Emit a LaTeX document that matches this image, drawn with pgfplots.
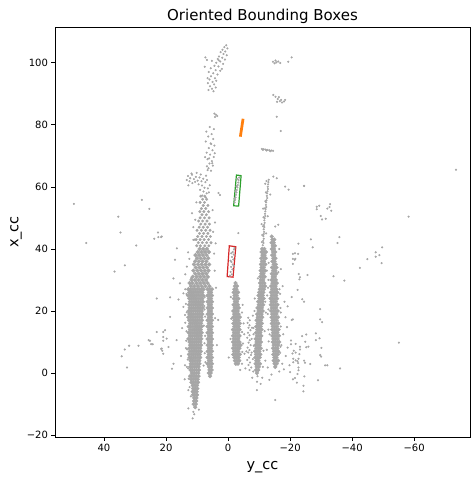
\documentclass[border=0pt]{standalone}
\usepackage{pgfplots}
\pgfplotsset{compat=1.18}
\usepackage{fontspec}
\setmainfont{DejaVu Sans}
\definecolor{ptgray}{RGB}{166,166,166}
\definecolor{mplorange}{HTML}{FF7F0E}
\definecolor{mplgreen}{HTML}{2CA02C}
\definecolor{mplred}{HTML}{D62728}
\pgfplotsset{
  scatpts/.style={only marks, color=ptgray, mark=*, mark size=0.85pt, mark options={draw=none, fill=ptgray}},
  medpts/.style={only marks, color=ptgray, mark=*, mark size=1.3pt, mark options={draw=none, fill=ptgray}},
  densepts/.style={only marks, color=ptgray, mark=*, mark size=1.9pt, mark options={draw=none, fill=ptgray}},
}
\begin{document}
\begin{tikzpicture}
\useasboundingbox (-55pt,-43pt) rectangle (417pt,437pt);
\begin{axis}[
  at={(0,0)}, anchor=south west,
  width=415pt, height=410pt, scale only axis,
  xmin=-78, xmax=55.8, ymin=-20.6, ymax=111.5,
  x dir=reverse,
  xtick={-60,-40,-20,0,20,40}, xticklabels={−60,−40,−20,0,20,40},
  ytick={-20,0,20,40,60,80,100}, yticklabels={−20,0,20,40,60,80,100},
  tick align=outside, xtick pos=left, ytick pos=left,
  major tick length=3.5pt,
  tick style={black, line width=0.6pt},
  axis line style={line width=0.6pt},
  ticklabel style={font=\fontsize{10}{12}\selectfont},
  title={Oriented Bounding Boxes},
  title style={font=\fontsize{15}{18}\selectfont, at={(axis description cs:0.5,1.013)}, anchor=base, yshift=-5pt},
  xlabel={y\_cc}, ylabel={x\_cc},
  xlabel style={font=\fontsize{14.5}{17}\selectfont, at={(axis description cs:0.5,-0.08)}, anchor=base},
  ylabel style={font=\fontsize{14.5}{17}\selectfont, at={(axis description cs:-0.088,0.5)}, anchor=base},
]
% dense strips
\addplot[densepts] coordinates {
(7.9,27)(8.6,27)(9.3,27)(10.0,27)(10.7,27)(11.4,27)(12.1,27)(12.8,27)
(8.3,26)(9.0,26)(9.7,26)(10.4,26)(11.1,26)(11.8,26)(12.5,26)
(8.0,25)(8.7,25)(9.4,25)(10.1,25)(10.8,25)(11.5,25)(12.2,25)(12.9,25)
(8.3,24)(9.0,24)(9.7,24)(10.4,24)(11.1,24)(11.8,24)(12.5,24)
(8.1,23)(8.8,23)(9.5,23)(10.2,23)(10.9,23)(11.6,23)(12.3,23)
(8.4,22)(9.1,22)(9.8,22)(10.5,22)(11.2,22)(11.9,22)(12.6,22)
(8.2,21)(8.9,21)(9.6,21)(10.3,21)(11.0,21)(11.7,21)(12.4,21)
(8.5,20)(9.2,20)(9.9,20)(10.6,20)(11.3,20)(12.0,20)(12.7,20)
(8.3,19)(9.0,19)(9.7,19)(10.4,19)(11.1,19)(11.8,19)(12.5,19)
(8.6,18)(9.3,18)(10.0,18)(10.7,18)(11.4,18)(12.1,18)(12.8,18)
(8.4,17)(9.1,17)(9.8,17)(10.5,17)(11.2,17)(11.9,17)(12.6,17)
(8.7,16)(9.4,16)(10.1,16)(10.8,16)(11.5,16)(12.2,16)
(8.5,15)(9.2,15)(9.9,15)(10.6,15)(11.3,15)(12.0,15)(12.7,15)
(8.8,14)(9.5,14)(10.2,14)(10.9,14)(11.6,14)(12.3,14)
(8.5,13)(9.2,13)(9.9,13)(10.6,13)(11.3,13)(12.0,13)(12.7,13)
(8.8,12)(9.5,12)(10.2,12)(10.9,12)(11.6,12)(12.3,12)
(8.6,11)(9.3,11)(10.0,11)(10.7,11)(11.4,11)(12.1,11)(12.8,11)
(8.9,10)(9.6,10)(10.3,10)(11.0,10)(11.7,10)(12.4,10)
(8.7,9)(9.4,9)(10.1,9)(10.8,9)(11.5,9)(12.2,9)
(9.0,8)(9.7,8)(10.4,8)(11.1,8)(11.8,8)(12.5,8)
(8.8,7)(9.5,7)(10.2,7)(10.9,7)(11.6,7)(12.3,7)
(9.1,6)(9.8,6)(10.5,6)(11.2,6)(11.9,6)(12.6,6)
(9.0,5)(9.7,5)(10.4,5)(11.1,5)(11.8,5)(12.4,5)
(9.3,4)(10.0,4)(10.7,4)(11.4,4)(12.1,4)
(9.2,3)(9.9,3)(10.6,3)(11.3,3)(12.0,3)
(9.5,2)(10.2,2)(10.9,2)(11.6,2)(12.2,2)
(9.4,1)(10.1,1)(10.8,1)(11.5,1)(12.1,1)
(9.6,0)(10.3,0)(11.0,0)(11.7,0)
(9.5,-1)(10.2,-1)(10.9,-1)(11.6,-1)(12.2,-1)
(9.8,-2)(10.5,-2)(11.2,-2)(11.9,-2)
(9.7,-3)(10.4,-3)(11.1,-3)(11.8,-3)
(10.0,-4)(10.7,-4)(11.4,-4)
(9.9,-5)(10.6,-5)(11.3,-5)
(10.1,-6)(10.8,-6)(11.4,-6)
(10.0,-7)(10.7,-7)(11.3,-7)
(10.2,-8)(10.9,-8)
(10.3,-9)(11.0,-9)
(10.4,-10)(11.1,-10)
(10.6,-11)
% secondary strip
(5.2,27)(5.9,27)(6.6,27)(5.5,26)(6.2,26)(5.2,25)(5.9,25)(6.6,25)(5.5,24)(6.2,24)
(5.2,23)(5.9,23)(6.6,23)(5.5,22)(6.2,22)(5.2,21)(5.9,21)(6.6,21)(5.5,20)(6.2,20)
(5.2,19)(5.9,19)(6.6,19)(5.5,18)(6.2,18)(5.2,17)(5.9,17)(6.6,17)(5.5,16)(6.2,16)
(5.2,15)(5.9,15)(6.6,15)(5.5,14)(6.2,14)(5.2,13)(5.9,13)(6.6,13)(5.5,12)(6.2,12)
(5.2,11)(5.9,11)(6.6,11)(5.5,10)(6.2,10)(5.2,9)(5.9,9)(6.6,9)(5.5,8)(6.2,8)
(5.2,7)(5.9,7)(6.6,7)(5.5,6)(6.2,6)(5.2,5)(5.9,5)(6.6,5)(5.5,4)(6.2,4)
(5.2,3)(5.9,3)(6.6,3)(5.5,2)(6.2,2)(5.3,1)(6.0,1)(5.6,0)(6.2,0)(5.8,-1)
% upper main
(6.8,40)(8.0,40)(9.2,40)(6.2,39)(7.4,39)(8.6,39)(9.8,39)
(6.9,38)(8.1,38)(9.3,38)(10.5,38)(6.4,37)(7.6,37)(8.8,37)(10.0,37)
(7.0,36)(8.2,36)(9.4,36)(10.6,36)(6.1,35)(7.3,35)(8.5,35)(9.7,35)(11.0,35)
(6.8,34)(8.0,34)(9.2,34)(10.4,34)(6.3,33)(7.5,33)(8.7,33)(9.9,33)(11.2,33)
(7.0,32)(8.2,32)(9.4,32)(10.6,32)(6.5,31)(7.7,31)(8.9,31)(10.1,31)(11.4,31)
(7.1,30)(8.3,30)(9.5,30)(10.7,30)(11.8,30)(6.6,29)(7.8,29)(9.0,29)(10.2,29)(11.5,29)(12.4,29)
(7.3,28)(8.5,28)(9.7,28)(10.9,28)(12.0,28)(6.0,28)
% strip D lower part
(-11.0,40)(-11.7,40)(-10.8,39)(-11.5,39)(-12.2,39)(-11.1,38)(-11.8,38)(-10.7,37)(-11.4,37)(-12.1,37)
(-10.9,36)(-11.6,36)(-10.6,35)(-11.3,35)(-12.0,35)(-10.8,34)(-11.5,34)(-10.5,33)(-11.2,33)(-11.9,33)
(-10.7,32)(-11.4,32)(-10.4,31)(-11.1,31)(-11.8,31)(-10.6,30)(-11.3,30)(-10.3,29)(-11.0,29)(-11.7,29)
(-10.5,28)(-11.2,28)(-11.9,28)(-10.2,27)(-10.9,27)(-11.6,27)(-10.0,26)(-10.7,26)(-11.4,26)
(-9.8,25)(-10.5,25)(-11.2,25)(-10.1,24)(-10.8,24)(-11.5,24)(-9.7,23)(-10.4,23)(-11.1,23)
(-9.9,22)(-10.6,22)(-11.3,22)(-9.5,21)(-10.2,21)(-10.9,21)(-9.8,20)(-10.5,20)(-11.2,20)
(-9.4,19)(-10.1,19)(-10.8,19)(-9.6,18)(-10.3,18)(-11.0,18)(-9.2,17)(-9.9,17)(-10.6,17)
(-9.5,16)(-10.2,16)(-10.9,16)(-9.1,15)(-9.8,15)(-10.5,15)(-9.4,14)(-10.1,14)(-10.8,14)
(-9.0,13)(-9.7,13)(-10.4,13)(-9.3,12)(-10.0,12)(-10.7,12)(-8.9,11)(-9.6,11)(-10.3,11)
(-9.2,10)(-9.9,10)(-10.6,10)(-8.8,9)(-9.5,9)(-10.2,9)(-9.1,8)(-9.8,8)(-10.5,8)
(-8.7,7)(-9.4,7)(-10.1,7)(-9.0,6)(-9.7,6)(-10.4,6)(-8.8,5)(-9.5,5)(-10.2,5)
(-9.1,4)(-9.8,4)(-8.9,3)(-9.6,3)(-10.3,3)(-9.2,2)(-9.9,2)(-9.0,1)(-9.7,1)(-9.3,0)
% strip E
(-14.1,44)(-14.3,43)(-14.9,43)(-14.0,42)(-14.7,42)(-14.4,41)(-15.1,41)(-14.1,40)(-14.8,40)
(-14.5,39)(-15.2,39)(-14.2,38)(-14.9,38)(-14.6,37)(-15.3,37)(-14.3,36)(-15.0,36)
(-14.7,35)(-15.4,35)(-14.2,34)(-14.9,34)(-15.6,34)(-14.5,33)(-15.2,33)
(-14.1,32)(-14.8,32)(-15.5,32)(-14.4,31)(-15.1,31)(-14.0,30)(-14.7,30)(-15.4,30)
(-14.3,29)(-15.0,29)(-15.7,29)(-13.9,28)(-14.6,28)(-15.3,28)(-14.2,27)(-14.9,27)(-15.6,27)
(-13.8,26)(-14.5,26)(-15.2,26)(-15.9,26)(-14.1,25)(-14.8,25)(-15.5,25)
(-13.7,24)(-14.4,24)(-15.1,24)(-15.8,24)(-14.0,23)(-14.7,23)(-15.4,23)
(-13.8,22)(-14.5,22)(-15.2,22)(-15.9,22)(-14.1,21)(-14.8,21)(-15.5,21)
(-13.9,20)(-14.6,20)(-15.3,20)(-16.0,20)(-14.2,19)(-14.9,19)(-15.6,19)
(-14.0,18)(-14.7,18)(-15.4,18)(-16.1,18)(-14.3,17)(-15.0,17)(-15.7,17)
(-14.1,16)(-14.8,16)(-15.5,16)(-16.2,16)(-14.4,15)(-15.1,15)(-15.8,15)
(-14.2,14)(-14.9,14)(-15.6,14)(-16.3,14)(-14.5,13)(-15.2,13)(-15.9,13)
(-14.3,12)(-15.0,12)(-15.7,12)(-16.4,12)(-14.6,11)(-15.3,11)(-16.0,11)
(-14.4,10)(-15.1,10)(-15.8,10)(-16.5,10)(-14.7,9)(-15.4,9)(-16.1,9)
(-14.5,8)(-15.2,8)(-15.9,8)(-14.8,7)(-15.5,7)(-16.2,7)(-14.6,6)(-15.3,6)(-16.0,6)
(-14.9,5)(-15.6,5)(-14.7,4)(-15.4,4)(-16.1,4)(-15.0,3)(-15.7,3)(-15.2,2)
% strip F
(-2.4,29)(-2.2,28)(-2.9,28)(-2.0,27)(-2.7,27)(-1.8,26)(-2.5,26)(-3.2,26)(-2.1,25)(-2.8,25)
(-1.9,24)(-2.6,24)(-3.3,24)(-2.2,23)(-2.9,23)(-1.8,22)(-2.5,22)(-3.2,22)
(-2.1,21)(-2.8,21)(-3.5,21)(-1.7,20)(-2.4,20)(-3.1,20)(-2.0,19)(-2.7,19)(-3.4,19)
(-1.7,18)(-2.4,18)(-3.1,18)(-3.8,18)(-2.0,17)(-2.7,17)(-3.4,17)
(-1.7,16)(-2.4,16)(-3.1,16)(-3.8,16)(-2.0,15)(-2.7,15)(-3.4,15)
(-1.6,14)(-2.3,14)(-3.0,14)(-3.7,14)(-1.9,13)(-2.6,13)(-3.3,13)
(-1.6,12)(-2.3,12)(-3.0,12)(-3.7,12)(-1.9,11)(-2.6,11)(-3.3,11)
(-1.6,10)(-2.3,10)(-3.0,10)(-3.7,10)(-1.9,9)(-2.6,9)(-3.3,9)(-4.0,9)
(-1.6,8)(-2.3,8)(-3.0,8)(-3.7,8)(-1.9,7)(-2.6,7)(-3.3,7)
(-1.7,6)(-2.4,6)(-3.1,6)(-3.8,6)(-2.0,5)(-2.7,5)(-3.4,5)(-2.2,4)(-2.9,4)(-3.6,4)(-2.5,3)(-3.2,3)
};
% medium-density part of the main strip
\addplot[medpts] coordinates {
(7.5,57)(8.8,57)(6.9,56)(8.2,56)(7.6,55)(9.0,55)(6.5,54)(8.0,54)(7.2,53)(8.6,53)
(6.3,52)(7.8,52)(9.1,52)(7.0,51)(8.4,51)(6.1,50)(7.6,50)(9.0,50)(6.8,49)(8.2,49)(9.5,49)
(6.0,48)(7.4,48)(8.8,48)(6.6,47)(8.0,47)(9.3,47)(5.8,46)(7.2,46)(8.6,46)(10.0,46)
(6.5,45)(7.9,45)(9.2,45)(5.7,44)(7.0,44)(8.4,44)(9.8,44)(6.3,43)(7.7,43)(9.0,43)(10.3,43)
(5.5,42)(6.9,42)(8.3,42)(9.6,42)(6.2,41)(7.5,41)(8.9,41)(10.1,41)
};
% scattered points
\addplot[scatpts] coordinates {
(-13.1,62.3)(-13.0,61.5)(-12.9,60.8)(-12.8,60.0)(-12.9,59.3)(-12.7,58.6)(-12.6,57.9)(-12.5,57.1)
(-12.6,56.4)(-12.4,55.7)(-12.3,55.0)(-12.2,54.2)(-12.3,53.5)(-12.1,52.8)(-12.0,52.1)(-11.9,51.3)
(-12.0,50.6)(-11.8,49.9)(-11.7,49.2)(-11.8,48.4)(-11.6,47.7)(-11.7,47.0)(-11.5,46.3)(-11.6,45.5)
(-11.5,44.8)(-11.4,44.1)(-11.5,43.3)(-11.3,42.6)(-11.4,41.9)(-11.2,41.2)
(-12.4,61.9)(-12.2,58.2)(-12.0,55.4)(-11.9,53.1)(-11.4,50.2)(-11.3,47.3)(-11.0,44.5)(-10.9,42.2)
(12.8,-11.4)(11.4,-14.6)(11.2,-12.5)(10.9,-13.3)(12.8,-5.5)(9.4,-11.8)
(13.4,25.5)(13.6,22.3)(13.3,19.6)(13.8,16.2)(13.4,13.5)(13.5,10.4)(13.2,7.6)(13.0,4.4)
(12.9,1.5)(12.7,-1.8)(12.4,-4.5)(12.0,-7.5)
(7.5,24.5)(7.7,21.6)(7.4,18.2)(7.8,15.3)(7.6,9.6)(7.5,6.4)(7.9,2.4)
(-8.2,12.5)(-8.0,18.5)(-8.6,24.0)(-9.6,30.5)(-12.6,25.0)(-12.2,19.5)(-11.8,13.5)(-11.4,7.2)
(-11.2,2.0)(-12.5,33.0)
(-13.1,35.5)(-12.9,27.5)(-13.0,20.5)(-13.4,12.5)(-17.0,15.0)(-16.9,21.0)(-16.6,27.0)(-16.2,32.5)(-16.9,8.5)
(-0.9,24.5)(-1.0,17.5)(-0.8,11.0)(-4.5,19.5)(-4.5,13.2)(-4.6,6.8)
(4.8,45.5)(11.2,47)(10.8,43)(4.5,38.5)(12.5,36.8)(13.3,34.3)(11.9,30.6)(4.3,33)(3.9,27.5)
(21.4,44)(16.5,40.2)(17.1,36.5)(17.6,30.5)(15.5,28.9)(14.4,25.7)(11.2,42.9)(10.6,49.4)(11.6,51.5)
(4.2,48.5)(5.0,52.5)(10.2,55.0)(3.1,58.0)(2.6,57.4)(-3.3,45.1)(13.8,31.8)(12.9,38.9)(4.0,41.8)
(12.9,63.5)(12.2,62.8)(11.6,63.9)(11.0,62.5)(10.4,63.2)(9.8,62.0)(9.2,63.0)(8.6,61.8)(8.0,62.6)
(7.3,61.5)(6.8,62.2)(12.4,61.8)(11.5,61.2)(10.6,61.6)(9.5,60.8)(8.4,60.4)(7.6,59.7)(6.5,59.5)
(7.9,58.5)(6.9,57.9)(8.3,57.2)(7.2,56.6)(13.3,62.2)(10.1,64.5)(5.9,60.5)(9.0,59.0)(12.8,60.5)
(11.8,64.3)(8.8,64.0)(7.1,63.6)(6.2,58.2)
(5.5,65.2)(6.3,66.0)(4.9,66.8)(6.0,67.5)(5.2,68.3)(6.6,68.9)(4.6,69.6)(5.8,70.4)(6.9,71.0)
(5.0,71.8)(6.2,72.5)(4.4,73.3)(5.6,74.0)(7.2,74.6)(4.8,75.4)(6.4,76.2)(5.3,77.0)(7.0,77.8)
(4.6,78.6)(5.9,79.3)(6.8,66.6)(4.3,70.8)(7.4,69.6)(5.4,73.8)(6.6,65.4)(5.1,67.6)(6.1,69.2)
(3.9,83.2)(4.4,83.6)(3.5,82.8)(4.2,82.5)
(0.6,105.6)(1.2,105.0)(0.2,104.6)(1.8,104.2)(0.9,103.6)(2.4,103.4)(1.5,102.8)(0.4,102.4)
(2.9,102.0)(1.9,101.6)(3.3,101.2)(1.0,101.0)(2.5,100.4)(3.8,100.0)(1.6,99.6)(7.3,101.7)
(6.8,100.9)(7.5,98.7)(5.2,100.6)(4.4,99.0)(3.1,98.8)(5.6,98.2)(4.0,97.6)(2.5,97.4)(6.2,97.0)
(4.8,96.6)(3.4,96.2)(5.5,95.6)(4.2,95.0)(6.0,94.6)(3.8,94.2)(5.0,93.8)(6.5,93.4)(4.5,93.0)
(5.8,92.4)(4.0,92.0)(5.2,91.6)(6.3,91.2)(4.7,90.8)(3.0,100.8)(2.0,98.0)(6.6,95.0)
(-14.5,100.3)(-15.0,99.8)(-15.6,100.1)(-16.2,100.4)(-16.8,99.9)(-15.3,100.7)(-19.4,100.3)(-20.5,101.7)
(-14.6,89.6)(-15.3,89.0)(-16.0,88.3)(-16.7,87.6)(-17.4,87.2)(-18.0,87.5)(-16.4,88.9)(-17.1,88.0)
(-15.8,87.4)(-18.4,88.0)(-15.7,82.6)(-17.0,78.0)
(-10.9,72.2)(-11.5,72.1)(-12.1,72.0)(-12.7,71.9)(-13.3,71.8)(-13.9,71.7)(-14.5,71.6)
(-11.2,71.9)(-12.4,71.7)(-13.6,71.5)
(-14.6,63.3)(-15.7,62.8)(-18.4,60.1)(-19.5,59.1)(-15.2,47.2)(-16.2,47.8)(-24.5,60.3)
(-12.0,61.0)(-13.6,57.5)(-11.3,53.0)(-12.8,50.5)(-10.8,48.0)(-12.3,45.0)
(-1.9,39.8)(-1.5,39.0)(-1.8,38.2)(-1.3,37.4)(-1.7,36.6)(-1.1,35.8)(-1.5,35.0)(-1.0,34.2)
(-1.4,33.4)(-0.8,32.6)(-1.2,31.8)(-0.6,31.4)(-2.1,40.3)(-1.0,38.6)(-0.8,36.2)(-1.9,34.6)
(-3.6,63.0)(-3.4,62.2)(-3.3,61.4)(-3.1,60.6)(-3.0,59.8)(-2.8,59.0)(-2.7,58.2)(-2.5,57.4)
(-2.4,56.6)(-2.3,55.8)(-2.1,55.0)(-3.0,62.6)(-2.7,60.2)(-2.4,58.6)(-2.1,56.2)
(-6.5,17.8)(-7.0,17.0)(-6.3,16.2)(-6.9,15.4)(-6.6,14.6)(-7.2,13.8)(-6.4,13.0)(-6.9,12.2)
(-6.2,11.4)(-7.0,10.6)(-6.6,9.8)(-7.3,9.0)(-6.3,8.2)(-6.9,7.4)(-6.5,6.6)(-7.4,5.8)(-6.8,5.0)
(-6.2,4.2)(-7.1,3.4)(-6.6,2.6)(-7.5,1.8)(-6.9,1.0)(-7.6,6.6)(-7.6,11.0)(-5.9,7.0)(-7.7,14.6)
(-4.8,9.5)(-5.3,6.2)(-4.5,3.0)(-5.6,1.5)(-8.0,4.5)(-8.3,8.8)(-8.1,0.5)(-12.0,4.0)(-12.5,7.5)
(-12.8,1.8)(-13.1,10.2)(-16.8,6.5)(-17.5,3.0)(-17.2,9.0)(-18.0,1.2)(-18.6,5.5)(-19.2,8.2)
(-19.8,2.5)(-20.3,10.5)(-17.8,12.5)(-19.0,14.8)(-18.5,18.0)(-17.0,19.5)(-18.2,23.0)(-16.8,25.5)
(-17.6,28.0)(-19.2,21.5)(-13.0,14.0)(-12.8,19.0)(-8.2,14.5)(-8.5,20.0)(-5.0,16.0)(-4.7,22.0)
(-5.2,12.5)(-7.8,-1.5)(-11.0,-1.5)(-13.3,-2.2)(-15.2,-8.7)(-21.6,-1.6)(-20.0,0.3)(-14.0,-0.5)
(-16.5,0.5)(-10.5,-3.5)(-9.3,-2.8)(-9.3,-5.5)(-9.5,-1.0)(-3.9,1.0)(4.2,17.7)(3.2,17.1)
(7.4,12.0)(7.6,20.5)(7.3,3.5)(3.6,9.0)(-0.2,5.0)(-12.0,23.0)(-13.0,30.0)(-17.0,33.5)(-16.5,40.0)
(18.7,24.4)(16.0,23.7)(14.4,21.3)(13.9,18.7)(18.7,18.1)(20.3,13.8)(20.9,11.6)(19.8,11.1)
(16.6,10.6)(21.4,7.9)(19.2,8.4)(17.6,3.0)(18.1,1.4)(13.9,2.5)(13.3,2.0)(14.8,14.5)(13.6,8.0)
(15.2,5.5)(14.0,-2.0)(13.8,27.0)
(49.7,54.5)(27.8,55.8)(25.4,52.9)(35.4,50.4)(34.7,45.3)(22.6,45.3)(23.8,43.3)(22.5,43.8)
(21.6,43.8)(45.7,41.9)(29.6,41.1)(33.3,34.7)(36.6,32.7)(23.0,24.0)(23.0,13.2)(20.9,13.2)
(25.6,10.6)(25.2,10.4)(20.9,10.4)(24.8,9.3)(24.3,9.3)(31.9,8.8)(28.9,8.8)(33.3,7.6)
(21.6,7.8)(21.2,7.2)(20.9,6.2)(34.3,5.4)(32.6,1.8)
(-73.5,65.5)(-24.5,60.3)(-58.2,50.4)(-28.6,53.6)(-28.6,52.8)(-29.4,53.9)(-32.0,53.0)(-32.7,53.5)
(-32.9,54.4)(-33.3,52.3)(-29.9,50.6)(-30.3,49.5)(-31.5,49.7)(-26.7,43.1)(-27.3,40.5)(-35.9,43.8)
(-35.3,41.9)(-22.7,41.7)(-20.9,38.4)(-22.6,38.4)(-20.9,36.8)(-21.5,36.5)(-21.7,36.8)(-20.9,35.2)
(-49.7,40.5)(-47.6,38.9)(-48.8,38.0)(-47.6,37.5)(-44.9,36.7)(-49.5,35.4)(-42.5,33.9)
(-22.8,31.9)(-23.2,30.9)(-23.0,30.2)(-25.6,31.6)(-34.0,31.2)(-37.5,29.8)(-22.4,26.8)
(-20.5,24.5)(-23.9,23.8)(-24.5,23.0)(-29.7,20.6)(-20.5,17.1)(-20.9,17.3)(-29.7,17.3)(-30.3,16.4)
(-23.9,11.9)(-25.2,12.4)(-28.3,12.8)(-28.3,10.6)(-29.5,11.2)(-55.1,9.8)(-24.9,10.1)(-21.8,9.4)
(-20.3,9.3)(-23.2,8.5)(-23.2,7.6)(-25.2,8.3)(-25.9,8.5)(-21.2,7.2)(-21.8,6.6)(-20.8,6.3)
(-23.0,6.1)(-30.1,8.1)(-29.7,5.8)(-30.0,5.3)(-21.0,4.6)(-21.8,4.1)(-22.4,3.8)(-22.7,4.6)
(-21.0,3.5)(-22.6,3.2)(-24.5,4.0)(-24.8,3.3)(-26.5,2.9)(-31.3,2.5)(-32.0,2.5)(-36.1,1.5)
(-22.7,1.8)(-22.7,0.9)(-22.4,-0.3)(-24.6,-1.1)(-20.9,-2.0)(-29.0,-2.3)(-22.2,-3.1)(-24.3,-4.1)
(-24.3,-5.9)(-21.6,38.6)
};
% boxes
\addplot[mplorange, line width=1.5pt] coordinates {(-4.6,81.73)(-5.0,81.67)(-4.2,76.37)(-3.8,76.43)} -- cycle;
\addplot[mplgreen, line width=1.2pt] coordinates {(-2.7,63.8)(-4.2,63.6)(-3.4,53.8)(-1.8,53.9)} -- cycle;
\addplot[mplred, line width=1.2pt] coordinates {(-0.4,41.0)(-2.5,40.7)(-1.6,30.9)(0.3,31.1)} -- cycle;
\end{axis}
\end{tikzpicture}
\end{document}
